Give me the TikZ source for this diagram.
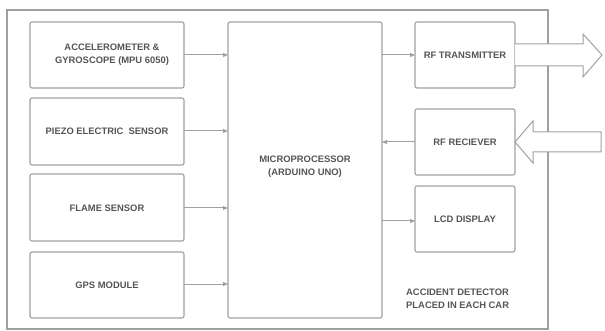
\documentclass[tikz,border=0pt]{standalone}
\usepackage{fontspec}
\setmainfont{Liberation Sans}
\usetikzlibrary{arrows.meta}
\definecolor{linegray}{HTML}{A0A0A0}
\definecolor{textgray}{HTML}{555555}
\begin{document}
\begin{tikzpicture}[x=1pt,y=-1pt,
  blk/.style={draw=linegray, line width=1.1pt, rounded corners=2pt, fill=white},
  lbl/.style={font=\fontsize{9.4}{12.8}\selectfont\bfseries, text=textgray, align=center},
  conn/.style={draw=linegray, line width=1pt, -{Triangle[length=5pt,width=4pt]}},
  fat/.style={draw=linegray, line width=1pt, fill=white, line join=miter}]
\useasboundingbox (0,0) rectangle (605,331);
\draw[draw=linegray, line width=1.1pt] (7,10) rectangle (548,329);
% left column
\draw[blk] (30,22) rectangle (184,88);
\node[lbl] (acc) at (112,55) {ACCELEROMETER \&\\GYROSCOPE (MPU 6050)};
\coordinate (accE) at (184,55);
\draw[blk] (30,98) rectangle (184,165);
\node[lbl] (piezo) at (107,131) {PIEZO ELECTRIC\ \ SENSOR};
\coordinate (piezoE) at (184,131);
\draw[blk] (30,174) rectangle (184,241);
\node[lbl] (flame) at (107,208) {FLAME SENSOR};
\coordinate (flameE) at (184,208);
\draw[blk] (30,252) rectangle (184,318);
\node[lbl] (gps) at (107,285) {GPS MODULE};
\coordinate (gpsE) at (184,284);
% centre
\draw[blk] (228,22) rectangle (382,318);
\node[lbl] (mcu) at (305,167) {MICROPROCESSOR\\(ARDUINO UNO)};
\coordinate (mcuW1) at (228,55);
\coordinate (mcuW2) at (228,131);
\coordinate (mcuW3) at (228,208);
\coordinate (mcuW4) at (228,284);
\coordinate (mcuE1) at (382,55);
\coordinate (mcuE2) at (382,142);
\coordinate (mcuE3) at (382,221);
% right column
\draw[blk] (415,22) rectangle (515,88);
\node[lbl] (tx) at (465,55) {RF TRANSMITTER};
\coordinate (txW) at (415,55);
\draw[blk] (415,109) rectangle (515,175);
\node[lbl] (rx) at (465,142) {RF RECIEVER};
\coordinate (rxW) at (415,142);
\draw[blk] (415,186) rectangle (515,252);
\node[lbl] (lcd) at (465,219) {LCD DISPLAY};
\coordinate (lcdW) at (415,221);
\node[lbl, align=left, anchor=west, inner sep=0pt] (note) at (406,298.5) {ACCIDENT DETECTOR\\PLACED IN EACH CAR};
% connectors
\draw[conn] (accE) -- (mcuW1);
\draw[conn] (piezoE) -- (mcuW2);
\draw[conn] (flameE) -- (mcuW3);
\draw[conn] (gpsE) -- (mcuW4);
\draw[conn] (mcuE1) -- (txW);
\draw[conn] (rxW) -- (mcuE2);
\draw[conn] (mcuE3) -- (lcdW);
% big arrows
\draw[fat] (515,44) -- (583,44) -- (583,34) -- (602,55) -- (583,77) -- (583,66) -- (515,66);
\draw[fat] (601,132) -- (533,132) -- (533,121) -- (515,142) -- (533,163) -- (533,152) -- (601,152) -- cycle;
\end{tikzpicture}
\end{document}
